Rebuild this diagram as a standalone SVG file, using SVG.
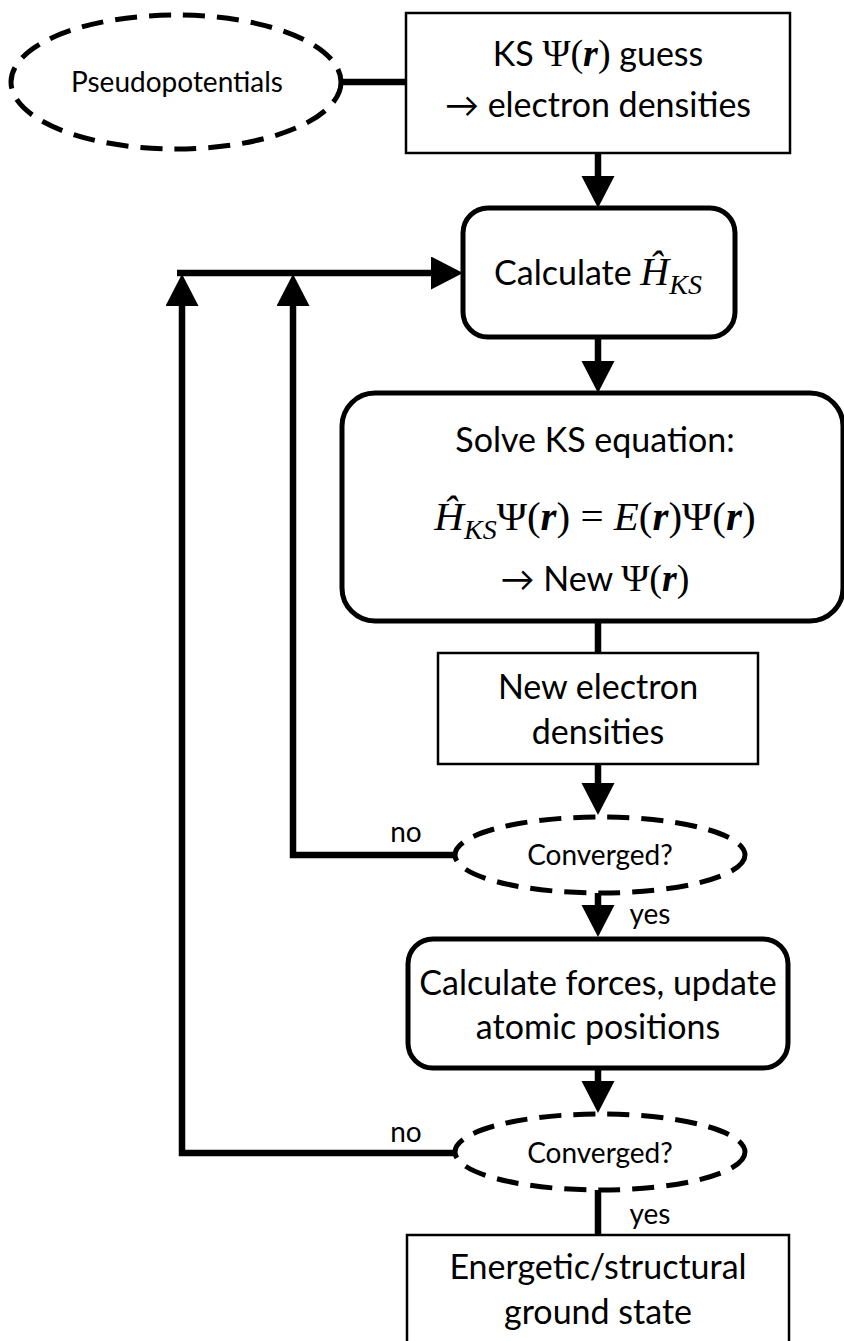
<svg xmlns="http://www.w3.org/2000/svg" width="844" height="1341" viewBox="0 0 844 1341">
<style>
.t{font-family:Lato,"Open Sans","DejaVu Sans",sans-serif;fill:#000;text-anchor:middle}
.big{font-size:34px}
.sm{font-size:28px}
.m{font-family:"Liberation Serif","DejaVu Serif",serif}
.bi{font-weight:bold;font-style:italic}
.it{font-style:italic}
.thin{fill:#fff;stroke:#000;stroke-width:2.5}
.round{fill:#fff;stroke:#000;stroke-width:5}
.dash{fill:#fff;stroke:#000;stroke-width:5;stroke-dasharray:22 12}
.c{fill:none;stroke:#000;stroke-width:6.5}
</style>
<defs>
<marker id="ah" markerUnits="userSpaceOnUse" markerWidth="34" markerHeight="34" refX="0" refY="16.5" orient="auto">
<path d="M0,0 L32,16.5 L0,33 z" fill="#000"/>
</marker>
</defs>
<g id="connectors">
<line class="c" x1="341" y1="82" x2="406" y2="82"/>
<line class="c" x1="598" y1="153" x2="598" y2="176" marker-end="url(#ah)"/>
<line class="c" x1="177" y1="273" x2="431" y2="273" marker-end="url(#ah)"/>
<line class="c" x1="598" y1="337" x2="598" y2="361" marker-end="url(#ah)"/>
<line class="c" x1="598" y1="620" x2="598" y2="653"/>
<line class="c" x1="598" y1="764" x2="598" y2="783" marker-end="url(#ah)"/>
<polyline class="c" points="455,855 293,855 293,306" marker-end="url(#ah)"/>
<line class="c" x1="598" y1="893" x2="598" y2="905" marker-end="url(#ah)"/>
<line class="c" x1="598" y1="1068" x2="598" y2="1081" marker-end="url(#ah)"/>
<polyline class="c" points="455,1153 182,1153 182,306" marker-end="url(#ah)"/>
<line class="c" x1="598" y1="1190" x2="598" y2="1235"/>
<text class="t sm" x="406" y="842">no</text>
<text class="t sm" x="406" y="1142">no</text>
<text class="t sm" x="650" y="924">yes</text>
<text class="t sm" x="650" y="1224">yes</text>
</g>
<g id="pseudo">
<ellipse class="dash" cx="176" cy="82" rx="165" ry="67"/>
<text class="t sm" x="177" y="92">Pseudopotentials</text>
</g>
<g id="guess">
<rect class="thin" x="406" y="13" width="384" height="140"/>
<text class="t big" x="598" y="66">KS <tspan class="m" font-size="38">Ψ(<tspan class="bi">r</tspan>)</tspan> guess</text>
<text class="t big" x="598" y="117">→ electron densities</text>
</g>
<g id="calcH">
<rect class="round" x="463" y="208" width="272" height="129" rx="25"/>
<text class="t big" x="598" y="285">Calculate <tspan class="m it" font-size="40">Ĥ</tspan><tspan class="m it" font-size="28" dy="9">KS</tspan></text>
</g>
<g id="solve">
<rect class="round" x="342" y="393" width="501" height="228" rx="33"/>
<text class="t big" x="595" y="452">Solve KS equation:</text>
<text class="t m" font-size="41" x="595" y="530"><tspan class="it">Ĥ</tspan><tspan class="it" font-size="28" dy="9">KS</tspan><tspan dy="-9">Ψ(</tspan><tspan class="bi">r</tspan>) = <tspan class="it">E</tspan>(<tspan class="bi">r</tspan>)Ψ(<tspan class="bi">r</tspan>)</text>
<text class="t big" x="595" y="591">→ New <tspan class="m" font-size="38">Ψ(<tspan class="bi">r</tspan>)</tspan></text>
</g>
<g id="newdens">
<rect class="thin" x="438" y="653" width="320" height="111"/>
<text class="t big" x="598" y="699">New electron</text>
<text class="t big" x="598" y="744">densities</text>
</g>
<g id="conv1">
<ellipse class="dash" cx="600" cy="855" rx="145" ry="38"/>
<text class="t sm" x="600" y="865">Converged?</text>
</g>
<g id="forces">
<rect class="round" x="408" y="939" width="380" height="129" rx="25"/>
<text class="t big" x="598" y="995">Calculate forces, update</text>
<text class="t big" x="598" y="1039">atomic positions</text>
</g>
<g id="conv2">
<ellipse class="dash" cx="600" cy="1152" rx="145" ry="38"/>
<text class="t sm" x="600" y="1163">Converged?</text>
</g>
<g id="ground">
<rect class="thin" x="407" y="1235" width="382" height="120"/>
<text class="t big" x="598" y="1279">Energetic/structural</text>
<text class="t big" x="598" y="1324">ground state</text>
</g>
</svg>
